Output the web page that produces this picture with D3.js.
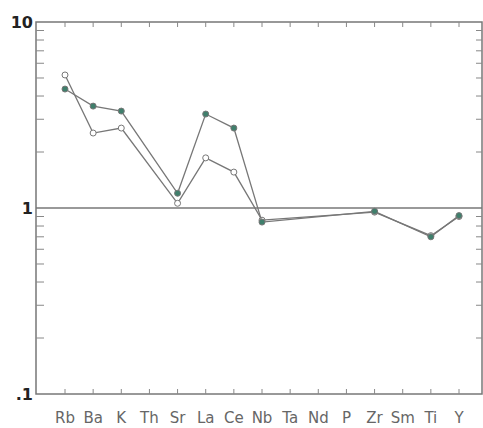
<!DOCTYPE html>
<html>
<head>
<meta charset="utf-8">
<script src="https://cdn.jsdelivr.net/npm/d3@7"></script>
<style>
  body { margin: 0; background: #fff; }
  svg { display: block; }
</style>
</head>
<body>
<svg width="483" height="428"></svg>
<script>
// element order on the spider diagram
const elements = ["Rb", "Ba", "K", "Th", "Sr", "La", "Ce", "Nb", "Ta", "Nd", "P", "Zr", "Sm", "Ti", "Y"];
// normalised values, null = not analysed
const sampleA = [4.36, 3.53, 3.32, null, 1.20, 3.20, 2.69, 0.84, null, null, null, 0.96, null, 0.70, 0.91];
const sampleB = [5.19, 2.53, 2.69, null, 1.06, 1.86, 1.56, 0.86, null, null, null, 0.95, null, 0.71, 0.90];
const yLabels = ["10", "1", ".1"];
const yLabelValues = [10, 1, 0.1];

const svg = d3.select("svg");
const pLeft = 36, pRight = 482, pTop = 22, pBottom = 394;

const x = d3.scalePoint().domain(elements).range([65, 459]);
const y = d3.scaleLog().domain([0.1, 10]).range([pBottom, pTop]);

// frame
svg.append("rect")
  .attr("x", pLeft).attr("y", pTop)
  .attr("width", pRight - pLeft).attr("height", pBottom - pTop)
  .style("fill", "none").style("stroke", "#777").style("stroke-width", 1.5);

// minor log ticks on left and right
const minor = [];
[0.1, 1].forEach(d => { for (let i = 2; i <= 9; i++) minor.push(d * i); });
svg.selectAll(".ytl").data(minor).enter().append("line")
  .attr("x1", pLeft).attr("x2", pLeft + 8)
  .attr("y1", d => y(d)).attr("y2", d => y(d))
  .style("stroke", "#888");
svg.selectAll(".ytr").data(minor).enter().append("line")
  .attr("x1", pRight).attr("x2", pRight - 6)
  .attr("y1", d => y(d)).attr("y2", d => y(d))
  .style("stroke", "#888");

// category ticks top and bottom
svg.selectAll(".xtb").data(elements).enter().append("line")
  .attr("x1", d => x(d)).attr("x2", d => x(d))
  .attr("y1", pBottom).attr("y2", pBottom - 5)
  .style("stroke", "#888");
svg.selectAll(".xtt").data(elements).enter().append("line")
  .attr("x1", d => x(d)).attr("x2", d => x(d))
  .attr("y1", pTop).attr("y2", pTop + 5)
  .style("stroke", "#888");

// reference line at 1
svg.append("line")
  .attr("x1", pLeft).attr("x2", pRight)
  .attr("y1", y(1)).attr("y2", y(1))
  .style("stroke", "#777").style("stroke-width", 1.5);

// y labels
svg.selectAll(".ylab").data(yLabelValues).enter().append("text")
  .attr("x", pLeft - 3).attr("y", d => y(d) + 6)
  .attr("text-anchor", "end")
  .style("font-family", "DejaVu Sans, sans-serif")
  .style("font-weight", "bold").style("font-size", "16px")
  .style("fill", "#222")
  .text((d, i) => yLabels[i]);

// x labels
svg.selectAll(".xlab").data(elements).enter().append("text")
  .attr("x", d => x(d)).attr("y", 423)
  .attr("text-anchor", "middle")
  .style("font-family", "DejaVu Sans, sans-serif")
  .style("font-size", "15px")
  .style("fill", "#666")
  .text(d => d);

function drawSeries(vals, fill) {
  const pts = elements.map((e, i) => ({ e: e, v: vals[i] })).filter(d => d.v != null);
  svg.append("path")
    .datum(pts)
    .attr("d", d3.line().x(d => x(d.e)).y(d => y(d.v)))
    .style("fill", "none").style("stroke", "#777").style("stroke-width", 1.3);
  svg.selectAll(null).data(pts).enter().append("circle")
    .attr("cx", d => x(d.e)).attr("cy", d => y(d.v)).attr("r", 3)
    .style("fill", fill).style("stroke", "#777").style("stroke-width", 1);
}

drawSeries(sampleB, "#fff");
drawSeries(sampleA, "#3f7f6c");
</script>
</body>
</html>
